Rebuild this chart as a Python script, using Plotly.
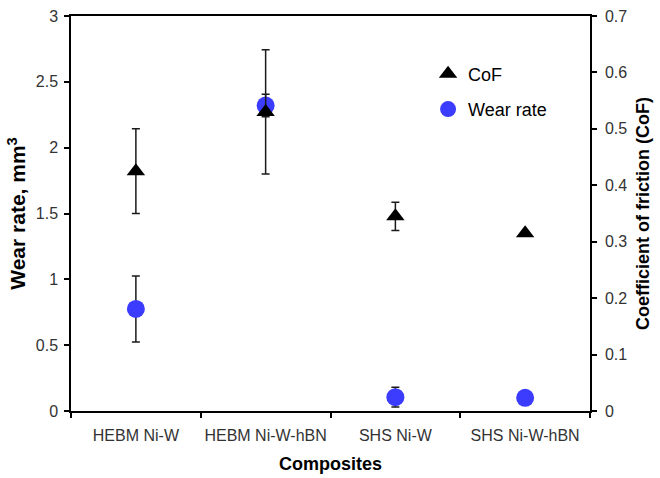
import plotly.graph_objects as go

# Composite samples and measured tribological properties
composites = ["HEBM Ni-W", "HEBM Ni-W-hBN", "SHS Ni-W", "SHS Ni-W-hBN"]
wear_rate = [0.775, 2.32, 0.105, 0.10]        # mm^3
wear_rate_err = [0.25, 0.085, 0.075, 0.0]
cof = [0.425, 0.53, 0.345, 0.315]             # coefficient of friction
cof_err = [0.075, 0.11, 0.025, 0.0]

FONT = "Liberation Sans, Arial, sans-serif"
TICK_COLOR = "#333333"

fig = go.Figure()

fig.add_trace(go.Scatter(
    x=composites, y=wear_rate, name="Wear rate", mode="markers",
    marker=dict(symbol="circle", size=18, color="#3C3CFF"),
    error_y=dict(type="data", array=wear_rate_err, visible=True,
                 color="#1a1a1a", thickness=1.5, width=4),
    xaxis="x", yaxis="y", legendgroup="w", legendrank=2,
))

fig.add_trace(go.Scatter(
    x=composites, y=cof, name="CoF", mode="markers",
    marker=dict(symbol="triangle-up", size=16, color="black"),
    error_y=dict(type="data", array=cof_err, visible=True,
                 color="#1a1a1a", thickness=1.5, width=4),
    xaxis="x", yaxis="y2", legendgroup="c", legendrank=1,
))

axis_common = dict(showgrid=False, zeroline=False, linecolor="black",
                   linewidth=1.5, tickcolor="black", tickwidth=1.5,
                   ticklen=5, ticks="outside", automargin=False,
                   tickfont=dict(family=FONT, size=16, color=TICK_COLOR))

inner_ticks = dict(ticks="inside", ticklen=5, tickwidth=1.5,
                   tickcolor="black", showticklabels=False, showgrid=False,
                   zeroline=False, showline=False, automargin=False)

fig.update_layout(
    width=660, height=478,
    margin=dict(l=71, r=70, t=16, b=67, autoexpand=False),
    paper_bgcolor="white", plot_bgcolor="white",
    font=dict(family=FONT, color="black"),
    showlegend=True,
    legend=dict(x=0.688, y=0.9, xanchor="left", yanchor="top",
                bgcolor="rgba(0,0,0,0)", tracegroupgap=9,
                font=dict(family=FONT, size=18, color="black")),
    xaxis=dict(
        **axis_common, type="category", tickson="boundaries",
        tickangle=0, range=[-0.5, 3.5], mirror=True, ticklabelstandoff=9,
        title=dict(text="<b>Composites</b>", standoff=14,
                   font=dict(family=FONT, size=18, color="black")),
    ),
    yaxis=dict(
        **axis_common, range=[0, 3], dtick=0.5, ticklabelstandoff=3,
        title=dict(text="<b>Wear rate, mm<sup>3</sup></b>", standoff=4,
                   font=dict(family=FONT, size=21, color="black")),
    ),
    yaxis2=dict(
        **axis_common, range=[0, 0.7], dtick=0.1, overlaying="y",
        side="right", anchor="x", ticklabelstandoff=5,
        title=dict(text="<b>Coefficient of friction (CoF)</b>", standoff=10,
                   font=dict(family=FONT, size=18, color="black")),
    ),
    # inward halves of the tick marks, so ticks cross the axis lines
    xaxis3=dict(overlaying="x", anchor="y", range=[-0.5, 3.5], tick0=-0.5,
                dtick=1, **inner_ticks),
    yaxis3=dict(overlaying="y", anchor="x", side="left", range=[0, 3],
                dtick=0.5, **inner_ticks),
    yaxis4=dict(overlaying="y", anchor="x", side="right", range=[0, 0.7],
                dtick=0.1, **inner_ticks),
)

fig.write_html("out.html")
